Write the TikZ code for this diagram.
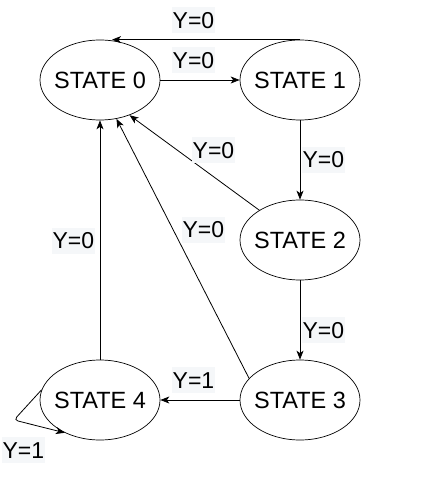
\documentclass[tikz,border=0pt]{standalone}
\usepackage{fontspec}
\setmainfont{Liberation Sans}
\usepackage{xcolor}
\usetikzlibrary{arrows.meta}
\usetikzlibrary{shapes.geometric}
\definecolor{labelbg}{HTML}{F5F7F9}
\tikzset{
	zustand/.style={draw, ellipse, line width=0.7pt, minimum width=120pt, minimum height=80pt, inner sep=-10pt, font=\fontsize{23.5}{27}\selectfont},
	uebergang/.style={fill=labelbg, inner xsep=1pt, inner ysep=0pt, minimum height=26pt, font=\fontsize{23}{26}\selectfont},
	pfeil/.style={-{Stealth[length=9pt,width=7pt,inset=2.5pt]}, line width=0.8pt}
}

\begin{document}
\begin{tikzpicture}[x=1pt,y=-1pt]
	\useasboundingbox (0,0) rectangle (421,494);
	\node[zustand] (s0) at (100,80) {STATE 0};
	\node[zustand] (s1) at (300,80) {STATE 1};
	\node[zustand] (s2) at (300,240) {STATE 2};
	\node[zustand] (s3) at (300,400) {STATE 3};
	\node[zustand] (s4) at (100,400) {STATE 4};
	\coordinate (knick) at (14,420);
	\draw[pfeil] (s0) -- (s1);
	\draw[pfeil] (s1.north) -- ([xshift=12pt]s0.north);
	\draw[pfeil] (s1) -- (s2);
	\draw[pfeil] (s2) -- (s3);
	\draw[pfeil] (s2) -- (s0.-50);
	\draw[pfeil] (s3.157) -- (s0.-67);
	\draw[pfeil] (s3) -- (s4);
	\draw[pfeil] (s4) -- (s0);
	\draw[pfeil, rounded corners=4pt] (s4.170) -- (knick) -- (s4.-137);
	\node[uebergang] (l10) at (193.5,20.3) {Y=0};
	\node[uebergang] (l01) at (193.5,60.3) {Y=0};
	\node[uebergang] (l12) at (323.3,160) {Y=0};
	\node[uebergang] (l20) at (213.5,150.3) {Y=0};
	\node[uebergang] (l30) at (203.3,230) {Y=0};
	\node[uebergang] (l40) at (73.3,241) {Y=0};
	\node[uebergang] (l23) at (323.3,330.3) {Y=0};
	\node[uebergang] (l34) at (193.5,380.3) {Y=1};
	\node[uebergang] (l44) at (23.3,450.3) {Y=1};
\end{tikzpicture}
\end{document}
